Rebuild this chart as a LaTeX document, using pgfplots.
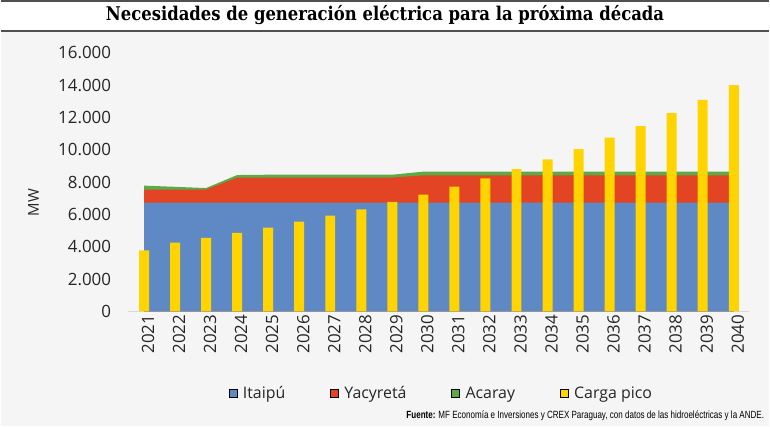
\documentclass[border=0pt]{standalone}
\usepackage{pgfplots}
\pgfplotsset{compat=1.18}
\usepackage{pgfplotstable}
\usepackage{fontspec}
\setmainfont{Open Sans}
\newfontfamily\titlefont[FakeStretch=0.87]{DejaVu Serif}
\newfontfamily\srcfont[FakeStretch=0.77]{Liberation Sans}

\definecolor{cIta}{RGB}{95,137,196}
\definecolor{cYac}{RGB}{226,68,36}
\definecolor{cAca}{RGB}{92,170,72}
\definecolor{cCar}{RGB}{255,212,0}
\definecolor{bg}{RGB}{245,245,245}
\definecolor{rule}{RGB}{80,80,80}

\pgfplotstableread{
x year ita yac aca car
0 2021 6730 805 250 3770
1 2022 6730 805 175 4260
2 2023 6730 805 100 4550
3 2024 6730 1550 160 4860
4 2025 6730 1550 180 5190
5 2026 6730 1550 180 5560
6 2027 6730 1550 180 5930
7 2028 6730 1550 180 6320
8 2029 6730 1550 180 6780
9 2030 6730 1690 230 7220
10 2031 6730 1690 230 7720
11 2032 6730 1690 230 8230
12 2033 6730 1690 230 8810
13 2034 6730 1690 230 9410
14 2035 6730 1690 230 10050
15 2036 6730 1690 230 10750
16 2037 6730 1690 230 11470
17 2038 6730 1690 230 12270
18 2039 6730 1690 230 13090
19 2040 6730 1690 230 14000
}\data

\begin{document}
\begin{tikzpicture}
\fill[white] (0,0) rectangle (770bp,427bp);
\fill[bg] (0,0) rectangle (770bp,396bp);
\draw[line width=1.5bp, rule] (0,426.2bp) -- (770bp,426.2bp);
\draw[line width=1.5bp, rule] (0,396bp) -- (770bp,396bp);
\node[anchor=base, inner sep=0pt, font=\titlefont\bfseries\fontsize{19}{22}\selectfont] at (385bp,406.5bp) {Necesidades de generación eléctrica para la próxima década};
\node[anchor=base east, inner sep=0pt, font=\srcfont\fontsize{10.5}{12}\selectfont] at (765bp,7.5bp) {\textbf{Fuente:} MF Economía e Inversiones y CREX Paraguay, con datos de las hidroeléctricas y la ANDE.};
\begin{axis}[
  at={(128bp,115bp)}, anchor=south west,
  scale only axis, width=622bp, height=259bp,
  xmin=-0.5, xmax=19.5, ymin=0, ymax=16000,
  axis lines*=left,
  y axis line style={draw=none},
  x axis line style={draw=black!15, line width=0.8bp},
  major tick length=0pt,
  ytick={0,2000,...,16000},
  xtick={0,...,19},
  xticklabels={2021,2022,2023,2024,2025,2026,2027,2028,2029,2030,2031,2032,2033,2034,2035,2036,2037,2038,2039,2040},
  xticklabel style={rotate=90, anchor=east, font=\fontsize{17}{17}\selectfont, text=black!85, yshift=-4bp},
  yticklabel style={font=\fontsize{17}{17}\selectfont, text=black!85, xshift=-14bp},
  /pgf/number format/1000 sep={.},
  /pgf/number format/assume math mode=true,
  scaled y ticks=false,
  ylabel={MW},
  ylabel style={at={(axis description cs:-0.153,0.42)}, anchor=center, font=\fontsize{15}{15}\selectfont, text=black!85},
  legend columns=4,
  legend style={at={(0.504,-0.317)}, anchor=center, draw=none, fill=none, font=\fontsize{16}{16}\selectfont, text=black!85,
    /tikz/every even column/.append style={column sep=43bp}},
  legend image code/.code={\fill[#1] (0bp,-4bp) rectangle (8bp,4bp); \path[draw=none,fill=none] (0bp,0bp) rectangle (12bp,0.1bp);},
]
\addlegendimage{fill=cIta}\addlegendentry{Itaipú}
\addlegendimage{fill=cYac}\addlegendentry{Yacyretá}
\addlegendimage{fill=cAca}\addlegendentry{Acaray}
\addlegendimage{fill=cCar}\addlegendentry{Carga pico}
\addplot[draw=none, fill=cAca, forget plot] table[x=x, y expr=\thisrow{ita}+\thisrow{yac}+\thisrow{aca}] {\data} \closedcycle;
\addplot[draw=none, fill=cYac, forget plot] table[x=x, y expr=\thisrow{ita}+\thisrow{yac}] {\data} \closedcycle;
\addplot[draw=none, fill=cIta, forget plot] table[x=x, y=ita] {\data} \closedcycle;
\addplot[ybar, bar width=10bp, fill=cCar, draw=none, forget plot] table[x=x, y=car] {\data};
\end{axis}
\end{tikzpicture}
\end{document}
